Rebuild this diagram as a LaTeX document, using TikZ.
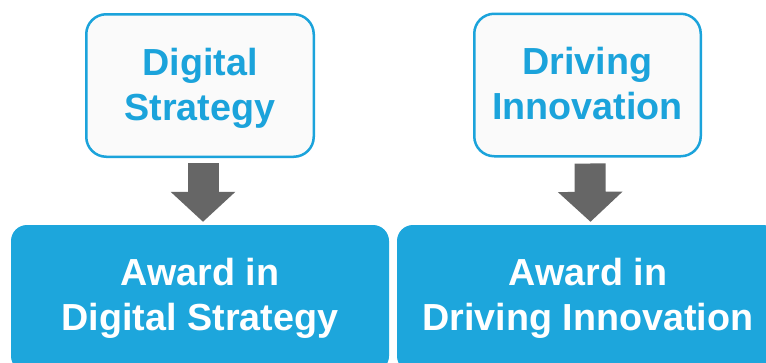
\documentclass[tikz,border=0pt]{standalone}
\usepackage{fontspec}
\setmainfont{Liberation Sans}
\usetikzlibrary{arrows.meta,calc}
\definecolor{cyanline}{RGB}{27,163,219}
\definecolor{cyanfill}{RGB}{29,166,220}
\definecolor{boxbg}{RGB}{250,250,250}
\definecolor{arrowgray}{RGB}{102,102,102}
\begin{document}
\begin{tikzpicture}[x=1pt,y=-1pt,
  bigfont/.style={font=\bfseries\fontsize{37.7}{45}\selectfont},
  topbox/.style={draw=cyanline, line width=2.5pt, fill=boxbg, rounded corners=20pt,
    minimum height=142.5pt, inner sep=0pt},
  toptext/.style={bigfont, text=cyanline, align=center, inner sep=0pt},
  awardbox/.style={fill=cyanfill, rounded corners=16pt, minimum height=147pt,
    text=white, bigfont, align=center, inner sep=0pt},
  blockarrow/.style={draw=arrowgray, line width=31pt, line cap=butt,
    -{Triangle[width=63pt,length=30pt]}}]
\useasboundingbox (0,0) rectangle (766,362);
\clip (0,0) rectangle (766,362);
\fill[white] (0,0) rectangle (766,362);

\node[topbox, minimum width=227.5pt] (t1) at (200,85.5) {};
\node[toptext] (t1txt) at ($(t1.center)+(0,3)$) {Digital\\Strategy\vphantom{gy}};
\node[topbox, minimum width=226.5pt] (t2) at (587.5,85) {};
\node[toptext] (t2txt) at ($(t2.center)+(0,2)$) {Driving\\Innovation\vphantom{gy}};

\node[awardbox, minimum width=378pt] (b1) at (200,298.5) {Award in\\Digital Strategy\vphantom{gy}};
\node[awardbox, minimum width=382pt] (b2) at (588,298.5) {Award in\\Driving Innovation\vphantom{gy}};

\draw[blockarrow] ($(t1.south)+(3,5)$) -- ($(b1.north)+(3,-3)$);
\draw[blockarrow] ($(t2.south)+(2.5,6)$) -- ($(b2.north)+(2.5,-3)$);
\end{tikzpicture}
\end{document}
